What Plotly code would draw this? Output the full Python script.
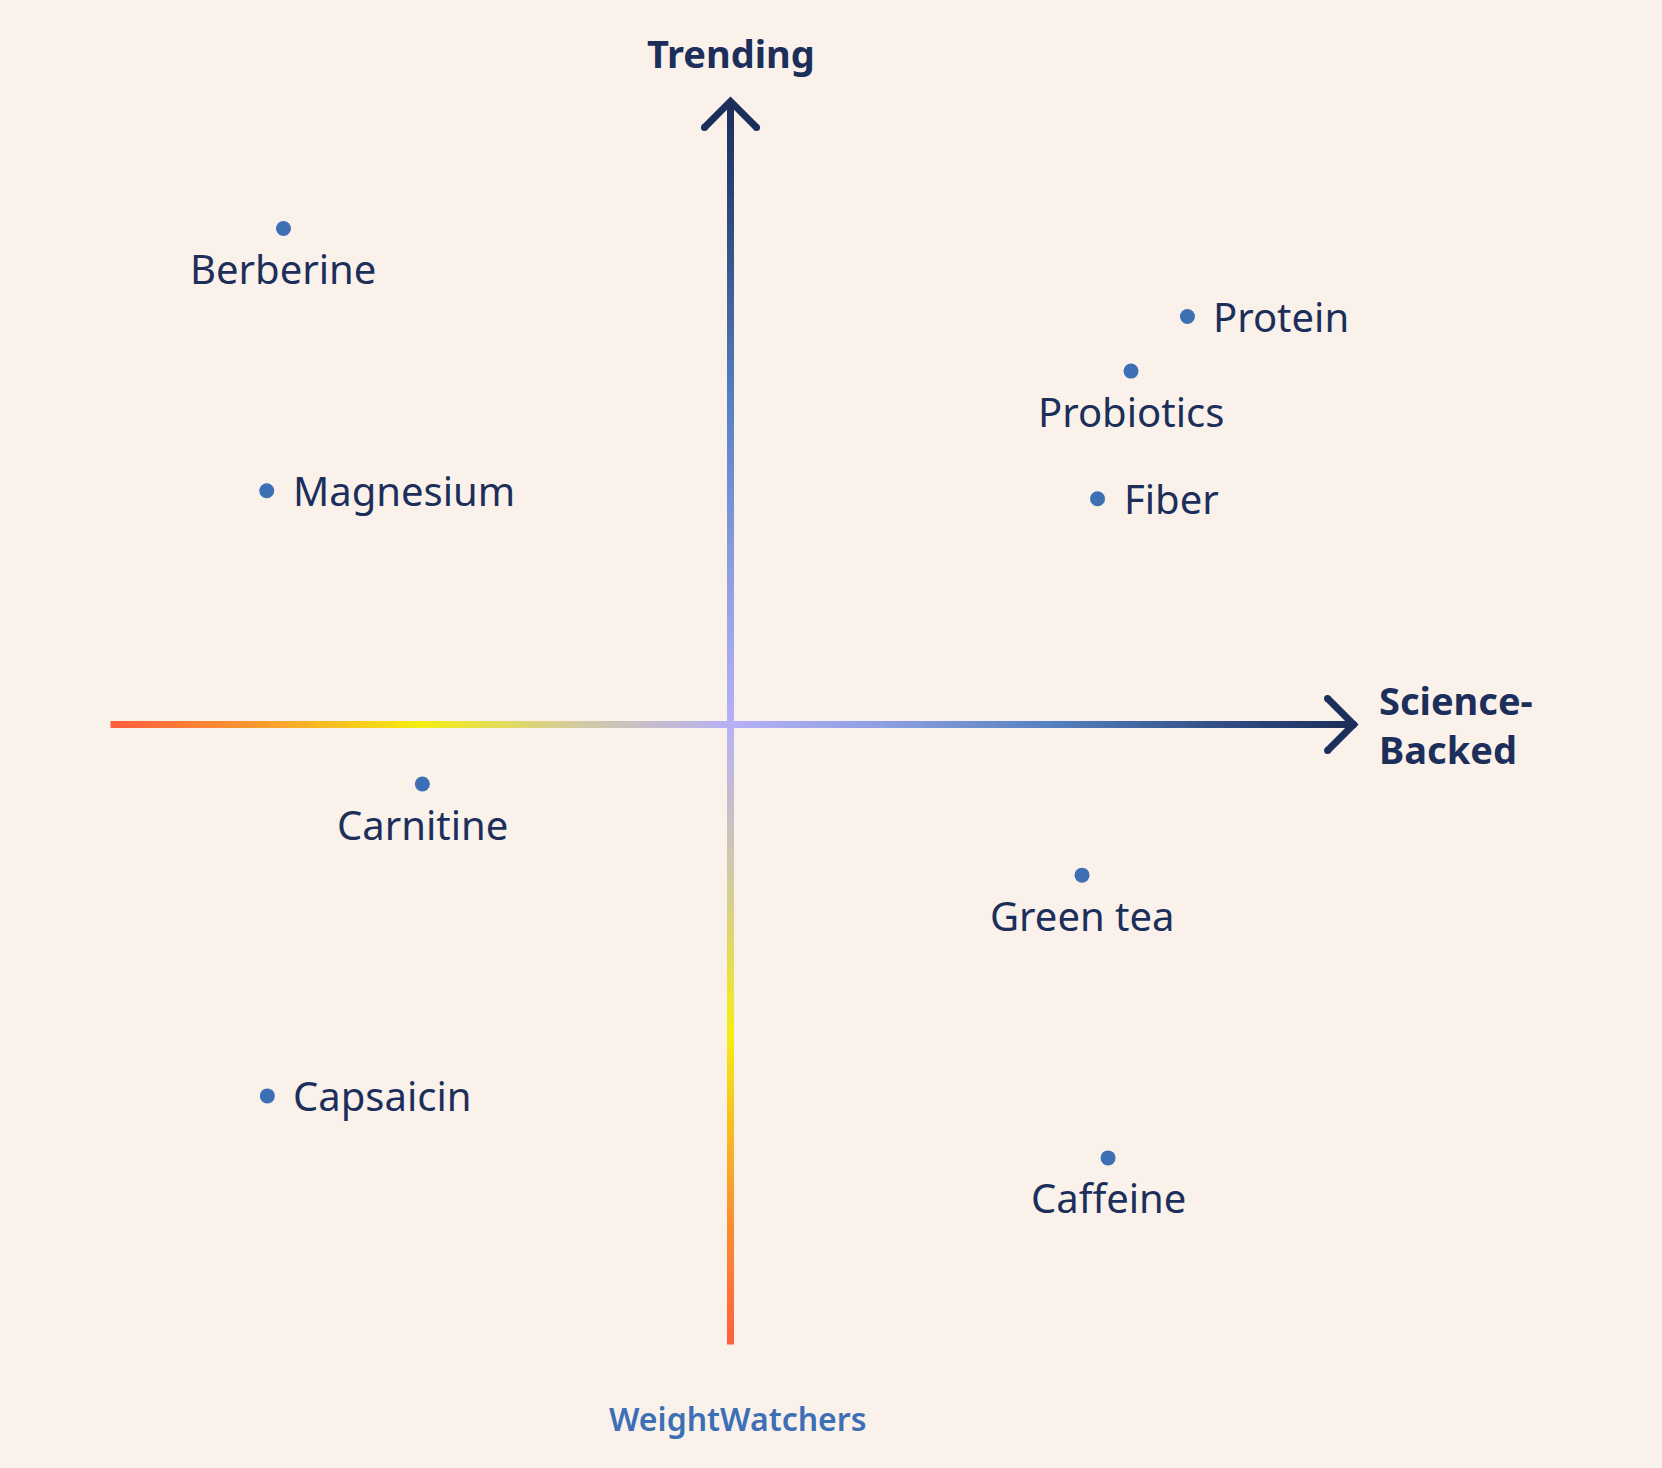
import plotly.graph_objects as go

# ---------------- data ----------------
names = ["Berberine", "Protein", "Probiotics", "Magnesium", "Fiber",
         "Carnitine", "Green tea", "Capsaicin", "Caffeine"]
science = [-7.21, 7.37, 6.46, -7.48, 5.92, -4.97, 5.67, -7.47, 6.09]
trending = [8.00, 6.58, 5.70, 3.77, 3.64, -0.96, -2.43, -5.99, -6.99]
label_side = ["below", "right", "below", "right", "right",
              "below", "below", "right", "below"]
x_title = "Science-<br>Backed"
y_title = "Trending"
brand = "WeightWatchers"

# ---------------- style ----------------
BG = "#FAF1EB"
NAVY = "#1C2E5A"
DOT = "#3D6FB5"
FONT = "Noto Sans"
AX_MIN, AX_MAX = -10.0, 10.05
HEAD = 0.42
LW = 7
grad_stops = [(0.00, "#FF5E3E"), (0.12, "#FA9A2E"), (0.25, "#F4EE12"),
              (0.38, "#D2C9A6"), (0.50, "#B6B0F6"), (0.62, "#8E9FE2"),
              (0.76, "#5580C0"), (0.90, "#2F4C82"), (1.00, "#1C2E5A")]


def hex2rgb(h):
    h = h.lstrip("#")
    return tuple(int(h[i:i + 2], 16) for i in (0, 2, 4))


def grad_color(t):
    for (t0, c0), (t1, c1) in zip(grad_stops[:-1], grad_stops[1:]):
        if t <= t1:
            f = (t - t0) / (t1 - t0) if t1 > t0 else 0
            a, b = hex2rgb(c0), hex2rgb(c1)
            return "rgb(%d,%d,%d)" % tuple(round(a[i] + (b[i] - a[i]) * f) for i in range(3))
    return grad_stops[-1][1]


fig = go.Figure()

shapes = []
N = 260
span = AX_MAX - AX_MIN
eps = span / N * 0.25
for i in range(N):
    t0, t1 = i / N, (i + 1) / N
    col = grad_color((t0 + t1) / 2)
    a = AX_MIN + t0 * span
    b = min(AX_MIN + t1 * span + eps, AX_MAX)
    # horizontal axis
    shapes.append(dict(type="line", xref="x", yref="y", x0=a, x1=b, y0=0, y1=0,
                       line=dict(color=col, width=LW), layer="below"))
    # vertical axis
    shapes.append(dict(type="line", xref="x", yref="y", x0=0, x1=0, y0=a, y1=b,
                       line=dict(color=col, width=LW), layer="below"))

# arrow heads
fig.add_trace(go.Scatter(x=[AX_MAX - HEAD, AX_MAX, AX_MAX - HEAD], y=[HEAD, 0, -HEAD],
                         mode="lines", line=dict(color=NAVY, width=LW),
                         hoverinfo="skip", showlegend=False))
fig.add_trace(go.Scatter(x=[-HEAD, 0, HEAD], y=[AX_MAX - HEAD, AX_MAX, AX_MAX - HEAD],
                         mode="lines", line=dict(color=NAVY, width=LW),
                         hoverinfo="skip", showlegend=False))
fig.add_trace(go.Scatter(x=[AX_MAX - HEAD, AX_MAX - HEAD, -HEAD, HEAD, AX_MAX],
                         y=[HEAD, -HEAD, AX_MAX - HEAD, AX_MAX - HEAD, 0],
                         mode="markers", marker=dict(color=NAVY, size=LW, line=dict(width=0)),
                         hoverinfo="skip", showlegend=False))

# points
fig.add_trace(go.Scatter(x=science, y=trending, mode="markers",
                         marker=dict(color=DOT, size=15, line=dict(width=0)),
                         text=names, hoverinfo="text", showlegend=False))

annotations = []
for n, xv, yv, side in zip(names, science, trending, label_side):
    if side == "below":
        annotations.append(dict(x=xv, y=yv, text=n, showarrow=False, xanchor="center",
                                yanchor="middle", yshift=-40,
                                font=dict(family=FONT, size=40, color=NAVY)))
    else:
        annotations.append(dict(x=xv, y=yv, text=n, showarrow=False, xanchor="left",
                                yanchor="middle", xshift=24,
                                font=dict(family=FONT, size=40, color=NAVY)))

annotations.append(dict(x=0, y=10.83, text="<b>%s</b>" % y_title, showarrow=False,
                        xanchor="center", yanchor="middle",
                        font=dict(family=FONT, size=38, color=NAVY)))
annotations.append(dict(x=10.42, y=0, text="<b>%s</b>" % x_title, showarrow=False,
                        xanchor="left", yanchor="middle", align="left",
                        font=dict(family=FONT, size=38, color=NAVY)))
annotations.append(dict(xref="paper", yref="paper", x=0.444, y=0.034, text=brand,
                        showarrow=False, xanchor="center", yanchor="middle",
                        font=dict(family=FONT, size=32, color=DOT, weight=600)))

S = 62.0
OX, OY = 730.5, 724.5
W, H = 1662, 1468
fig.update_layout(
    width=W, height=H,
    margin=dict(l=0, r=0, t=0, b=0),
    paper_bgcolor=BG, plot_bgcolor=BG,
    shapes=shapes, annotations=annotations,
    xaxis=dict(range=[-OX / S, (W - OX) / S], visible=False, fixedrange=True),
    yaxis=dict(range=[-(H - OY) / S, OY / S], visible=False, fixedrange=True),
    hovermode="closest",
)

page_js = ("document.body.style.margin='0';document.body.style.padding='0';"
           "document.body.style.overflow='hidden';"
           "document.body.style.background='%s';" % BG)
fig.write_html("out.html", post_script=page_js, config={"displayModeBar": False})
